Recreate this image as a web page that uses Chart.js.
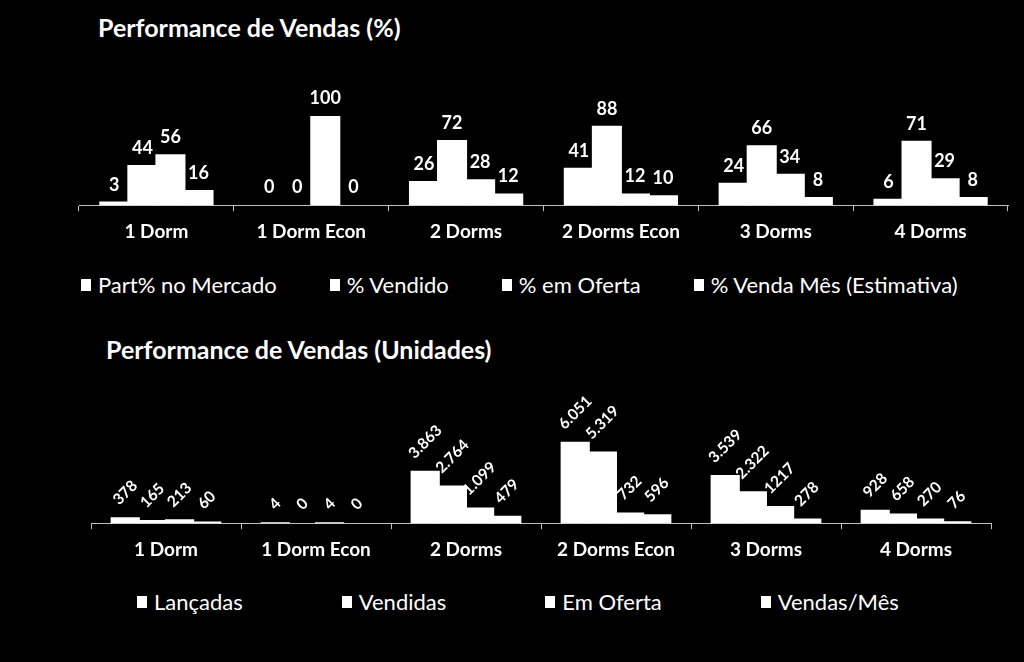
<!DOCTYPE html>
<html lang="pt-BR">
<head>
<meta charset="utf-8">
<title>Performance de Vendas</title>
<script src="https://cdn.jsdelivr.net/npm/chart.js@4.4.1/dist/chart.umd.min.js"></script>
<style>
  html, body { margin: 0; padding: 0; background: #000; }
  body { width: 1024px; height: 662px; position: relative; overflow: hidden; font-family: Lato, "Open Sans", sans-serif; color: #fff; }
  .titulo { position: absolute; font-weight: 700; font-size: 25px; line-height: 26px; white-space: nowrap; }
  canvas { position: absolute; left: 0; }
  .legenda { position: absolute; display: flex; align-items: center; font-size: 22px; line-height: 24px; white-space: nowrap; }
  .legenda .item { display: flex; align-items: center; }
  .legenda i { display: inline-block; width: 10px; height: 12px; background: #fff; margin-right: 7px; }
</style>
</head>
<body>
<div class="titulo" style="left:98px;top:14px">Performance de Vendas (%)</div>
<canvas id="chPct" width="1024" height="260" style="top:0"></canvas>
<div class="legenda" id="legPct" style="left:81px;top:273px"></div>

<div class="titulo" style="left:106px;top:336px">Performance de Vendas (Unidades)</div>
<canvas id="chUnid" width="1024" height="260" style="top:320px"></canvas>
<div class="legenda" id="legUnid" style="left:137px;top:590px"></div>

<script>
/* ---------- dados ---------- */
const categorias = ["1 Dorm", "1 Dorm Econ", "2 Dorms", "2 Dorms Econ", "3 Dorms", "4 Dorms"];

const seriesPct = ["Part% no Mercado", "% Vendido", "% em Oferta", "% Venda Mês (Estimativa)"];
const partMercado = [3, 0, 26, 41, 24, 6];
const pctVendido = [44, 0, 72, 88, 66, 71];
const pctOferta = [56, 100, 28, 12, 34, 29];
const pctVendaMes = [16, 0, 12, 10, 8, 8];

const seriesUnid = ["Lançadas", "Vendidas", "Em Oferta", "Vendas/Mês"];
const lancadas = [378, 4, 3863, 6051, 3539, 928];
const vendidas = [165, 0, 2764, 5319, 2322, 658];
const emOferta = [213, 4, 1099, 732, 1217, 270];
const vendasMes = [60, 0, 479, 596, 278, 76];
const semSeparador = [1217]; // na planilha este valor aparece sem ponto de milhar

const FONTE = "Lato, 'Open Sans', sans-serif";
const EIXO = "#bfbfbf";

/* ---------- rótulos de dados (sobre as barras) ---------- */
function rotulos(fmt, girar, tamanho) {
  return {
    id: "rotulos",
    afterDatasetsDraw(ch) {
      const g = ch.ctx;
      g.save();
      g.fillStyle = "#fff";
      g.font = "700 " + tamanho + "px " + FONTE;
      ch.data.datasets.forEach((ds, i) => {
        ch.getDatasetMeta(i).data.forEach((bar, j) => {
          const txt = fmt(ds.data[j]);
          if (girar) {
            const w = g.measureText(txt).width;
            const h = (w + 11) * Math.SQRT1_2;
            g.save();
            g.translate(bar.x, bar.y - 12 - h / 2);
            g.rotate(-Math.PI / 4);
            g.textAlign = "center"; g.textBaseline = "middle";
            g.fillText(txt, 0, 0);
            g.restore();
          } else {
            g.textAlign = "center"; g.textBaseline = "alphabetic";
            g.fillText(txt, bar.x, bar.y - 12);
          }
        });
      });
      g.restore();
    },
  };
}

function grafico(id, nomes, valores, max, pad, fmt, girar, tamRot) {
  return new Chart(document.getElementById(id), {
    type: "bar",
    data: {
      labels: categorias,
      datasets: nomes.map((n, i) => ({
        label: n, data: valores[i], backgroundColor: "#fff", borderWidth: 0,
        inflateAmount: (c) => (c.raw === 0 ? 0 : 1), // sobrepõe barras vizinhas (sem frestas)
        categoryPercentage: 0.725, barPercentage: 1,
      })),
    },
    options: {
      responsive: false, animation: false,
      layout: { padding: pad },
      plugins: { legend: { display: false }, tooltip: { enabled: false } },
      scales: {
        y: { display: false, min: 0, max: max },
        x: {
          grid: { display: true, drawOnChartArea: false, drawTicks: true, tickLength: 6, color: EIXO, offset: true },
          border: { display: true, color: EIXO, width: 1 },
          ticks: { color: "#fff", font: { family: FONTE, size: 19, weight: "bold" }, padding: 9, maxRotation: 0, autoSkip: false },
        },
      },
    },
    plugins: [rotulos(fmt, girar, tamRot)],
  });
}

function legenda(id, nomes, espaco) {
  const box = document.getElementById(id);
  box.innerHTML = nomes.map((n, i) =>
    '<span class="item" style="margin-right:' + (i < nomes.length - 1 ? espaco : 0) + 'px"><i></i>' + n + "</span>"
  ).join("");
}

const fmtUnid = (v) => semSeparador.includes(v) ? String(v) : v.toLocaleString("pt-BR");

grafico("chPct", seriesPct, [partMercado, pctVendido, pctOferta, pctVendaMes], 100,
  { left: 79, right: 16, top: 116, bottom: 8 }, (v) => String(v), false, 18);
grafico("chUnid", seriesUnid, [lancadas, vendidas, emOferta, vendasMes], 7000,
  { left: 91, right: 33, top: 110, bottom: 10 }, fmtUnid, true, 15.5);

legenda("legPct", seriesPct, 53);
legenda("legUnid", seriesUnid, 99);
</script>
</body>
</html>
